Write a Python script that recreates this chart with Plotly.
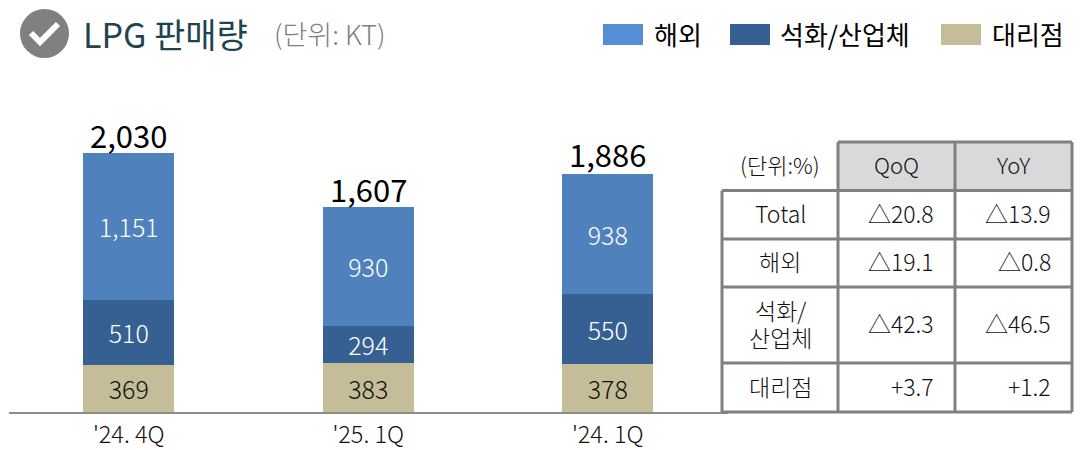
import plotly.graph_objects as go

W, H = 1086, 450
KR = "Noto Sans CJK KR"

quarters = ["'24. 4Q", "'25. 1Q", "'24. 1Q"]
dealer = [369, 383, 378]
petro = [510, 294, 550]
overseas = [1151, 930, 938]
totals = [2030, 1607, 1886]

legend_names = ["해외", "석화/산업체", "대리점"]
bar_colors = ["#4F81BD", "#376092", "#C4BD97"]
legend_colors = ["#558ED5", "#376092", "#C4BD97"]

table_unit = "(단위:%)"
table_cols = ["QoQ", "YoY"]
table_rows = ["Total", "해외", "석화/<br>산업체", "대리점"]
table_qoq = ["△20.8", "△19.1", "△42.3", "+3.7"]
table_yoy = ["△13.9", "△0.8", "△46.5", "+1.2"]

# layout in pixels
px = lambda x: x / W
py = lambda y: 1 - y / H
base_y, top_y, left_x, right_x = 412, 93, 9, 727.5
GRID = "#808080"
shapes, notes = [], []


def rect(x0, y0, x1, y1, **kw):
    shapes.append(dict(type="rect", xref="paper", yref="paper", x0=px(x0), x1=px(x1),
                       y0=py(y0), y1=py(y1), **kw))


def note(x, y, text, size, color="#111111", anchor="center", weight=300):
    notes.append(dict(xref="paper", yref="paper", x=px(x), y=py(y), text=text, showarrow=False,
                      xanchor=anchor, yanchor="middle",
                      font=dict(family=KR, size=size, color=color, weight=weight)))


fig = go.Figure()
series = [("대리점", dealer, bar_colors[2], "#111111"),
          ("석화/산업체", petro, bar_colors[1], "#FFFFFF"),
          ("해외", overseas, bar_colors[0], "#FFFFFF")]
for name, vals, col, tcol in series:
    fig.add_trace(go.Bar(name=name, x=quarters, y=vals, width=0.38, marker=dict(color=col, line_width=0),
                         text=[f"{v:,}" for v in vals], textposition="inside", insidetextanchor="middle",
                         textangle=0, constraintext="none",
                         textfont=dict(family=KR, size=25, color=tcol, weight=300)))
# stack totals, anchored to the data scale
for q, t in zip(quarters, totals):
    notes.append(dict(xref="x", yref="y", x=q, y=t, text=f"{t:,}", showarrow=False, yanchor="middle", yshift=18,
                      font=dict(family=KR, size=31, color="#000000", weight=400)))

# header icon and titles
shapes.append(dict(type="circle", xref="paper", yref="paper", x0=px(20), x1=px(69), y0=py(58), y1=py(9),
                   fillcolor="#808080", line_width=0))
shapes.append(dict(type="path", xref="paper", yref="paper",
                   path=f"M {px(31)} {py(33)} L {px(40)} {py(42)} L {px(58)} {py(24)}",
                   line=dict(color="#FFFFFF", width=6)))
note(81, 33, "LPG 판매량", 34, "#1F4450", "left", 400)
note(272, 33, "(단위: KT)", 27, "#808080", "left")

# legend
for sx, tx, name, col in zip([603, 730, 941], [652, 778, 990], legend_names, legend_colors):
    rect(sx, 24, sx + 40, 45, fillcolor=col, line_width=0)
    note(tx, 33, name, 26, "#000000", "left", 400)

# table
xs = [722, 838, 955, 1072]
ys = [142, 190.5, 239, 287, 363, 412]
rect(xs[1], ys[0], xs[3], ys[1], fillcolor="#D9D9D9", line_width=0)
line = dict(color=GRID, width=3)
for i, x in enumerate(xs):
    shapes.append(dict(type="line", xref="paper", yref="paper", x0=px(x), x1=px(x),
                       y0=py(ys[0] if i else ys[1]), y1=py(ys[-1]), line=line))
for i, y in enumerate(ys):
    shapes.append(dict(type="line", xref="paper", yref="paper", x0=px(xs[1] if i == 0 else xs[0]), x1=px(xs[3]),
                       y0=py(y), y1=py(y), line=line))
note(780, 164, table_unit, 22)
note(896, 164, table_cols[0], 22)
note(1013, 164, table_cols[1], 22)
for i, (r, q, yy) in enumerate(zip(table_rows, table_qoq, table_yoy)):
    cy = (ys[i + 1] + ys[i + 2]) / 2 - 2
    parts = r.split("<br>")
    for k, part in enumerate(parts):
        note(780, cy + (k - (len(parts) - 1) / 2) * 27, part, 23)
    note(936, cy, q, 23, anchor="right")
    note(1053, cy, yy, 23, anchor="right")

fig.update_layout(
    width=W, height=H, autosize=False, margin=dict(l=0, r=0, t=0, b=0, autoexpand=False),
    paper_bgcolor="#FFFFFF", plot_bgcolor="#FFFFFF", barmode="stack", showlegend=False,
    shapes=shapes, annotations=notes,
    font=dict(family=KR),
    xaxis=dict(domain=[px(left_x), px(right_x)], type="category", showgrid=False, zeroline=False,
               automargin=False,
               showline=True, linecolor="#8C8C8C", linewidth=2, ticks="", ticklabelstandoff=1,
               tickfont=dict(family=KR, size=23.5, color="#111111", weight=300)),
    yaxis=dict(domain=[py(base_y), py(top_y)], range=[0, 2500], visible=False),
)
fig.write_html("out.html", config=dict(displayModeBar=False),
               post_script="document.body.style.margin='0';document.documentElement.style.overflow='hidden';")
